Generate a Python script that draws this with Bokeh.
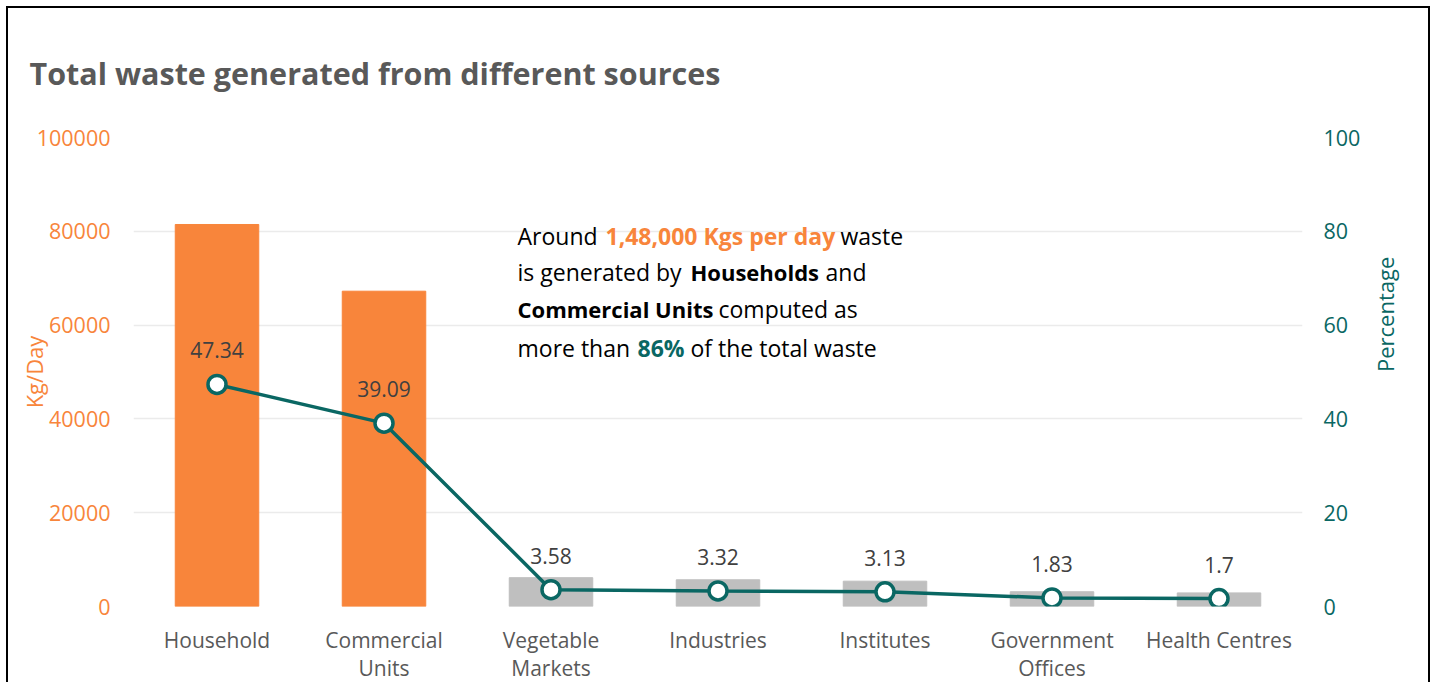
from bokeh.plotting import figure
from bokeh.models import (FactorRange, Range1d, LinearAxis, Label, ColumnDataSource,
                          FixedTicker, NumeralTickFormatter, Title)
from bokeh.core.properties import value
from bokeh.embed import file_html
from bokeh.resources import INLINE
import math

# ---------------- data ----------------
categories = ["Household", "Commercial\nUnits", "Vegetable\nMarkets", "Industries",
              "Institutes", "Government\nOffices", "Health Centres"]
waste_kg_per_day = [81450, 67230, 6150, 5700, 5400, 3150, 2900]
percentage = [47.34, 39.09, 3.58, 3.32, 3.13, 1.83, 1.7]
percentage_labels = ["47.34", "39.09", "3.58", "3.32", "3.13", "1.83", "1.7"]
left_ticks = [0, 20000, 40000, 60000, 80000, 100000]
right_ticks = [0, 20, 40, 60, 80, 100]

# ---------------- style ----------------
ORANGE = "#F8853B"
TEAL = "#0A6763"
GRAY = "#BFBFBF"
TXT = "#595959"
FONT = "Open Sans"

bar_colors = [ORANGE if i < 2 else GRAY for i in range(len(categories))]

src = ColumnDataSource(dict(cat=categories, kg=waste_kg_per_day, pct=percentage,
                            lbl=percentage_labels, color=bar_colors))

p = figure(title=None, x_range=FactorRange(*categories), y_range=Range1d(0, 100000),
           width=1424, height=676, output_backend="svg", toolbar_location=None,
           min_border_left=125, min_border_right=130, min_border_top=129,
           min_border_bottom=78,
           styles={"margin-left": "6px", "margin-top": "6px",
                   "border-left": "2px solid black", "border-right": "2px solid black",
                   "border-top": "2px solid black"})
p.outline_line_color = None
p.background_fill_color = "white"
p.border_fill_color = "white"

# title
p.add_layout(Title(text="Total waste generated from different sources", text_font=FONT,
                   text_font_size="30.5px", text_font_style="bold", text_color=TXT,
                   align="left", vertical_align="top", offset=-104, standoff=84), "above")

p.extra_y_ranges = {"pct": Range1d(0, 100)}

# grid
p.xgrid.grid_line_color = None
p.ygrid.grid_line_color = "#EBEBEB"
p.ygrid.grid_line_width = 1.5
p.ygrid.ticker = FixedTicker(ticks=left_ticks)

# left axis
ly = p.yaxis[0]
ly.ticker = FixedTicker(ticks=left_ticks)
ly.formatter = NumeralTickFormatter(format="0")
ly.axis_line_color = None
ly.major_tick_line_color = None
ly.minor_tick_line_color = None
ly.major_label_text_color = ORANGE
ly.major_label_text_font = FONT
ly.major_label_text_font_size = "21.5px"
ly.major_label_standoff = 17
ly.axis_label = "Kg/Day"
ly.axis_label_text_font = FONT
ly.axis_label_text_font_size = "22px"
ly.axis_label_text_font_style = "normal"
ly.axis_label_text_color = ORANGE
ly.axis_label_standoff = -15

# right axis
ry = LinearAxis(y_range_name="pct", ticker=FixedTicker(ticks=right_ticks))
ry.axis_line_color = None
ry.major_tick_line_color = None
ry.minor_tick_line_color = None
ry.major_label_text_color = TEAL
ry.major_label_text_font = FONT
ry.major_label_text_font_size = "21.5px"
ry.major_label_standoff = 15
ry.axis_label = "Percentage"
ry.axis_label_text_font = FONT
ry.axis_label_text_font_size = "22px"
ry.axis_label_text_font_style = "normal"
ry.axis_label_text_color = TEAL
ry.axis_label_standoff = 22
if hasattr(ry, "axis_label_orientation"):
    ry.axis_label_orientation = math.pi / 2
p.add_layout(ry, "right")

# x axis
xa = p.xaxis[0]
xa.axis_line_color = None
xa.major_tick_line_color = None
xa.minor_tick_line_color = None
xa.major_label_text_color = TXT
xa.major_label_text_font = FONT
xa.major_label_text_font_size = "21px"
xa.major_label_text_line_height = 1.0
xa.major_label_standoff = 13

# bars
p.vbar(x="cat", top="kg", width=0.5, color="color", source=src)

# line + markers
p.line(x="cat", y="pct", y_range_name="pct", line_color=TEAL, line_width=3.5, source=src)
p.scatter(x="cat", y="pct", y_range_name="pct", size=18, fill_color="white",
          line_color=TEAL, line_width=3.5, source=src)
p.text(x="cat", y="pct", text="lbl", y_range_name="pct", y_offset=-34,
       text_align="center", text_baseline="middle", text_color="#404040",
       text_font=value(FONT), text_font_size="21px", source=src)

# annotation (segments: text, x offset, y offset, color, style, size)
segments = [
    ("Around", 384, 371, "black", "normal", "23px"),
    ("1,48,000 Kgs per day", 472, 371, ORANGE, "bold", "23px"),
    ("waste", 707, 371, "black", "normal", "23px"),
    ("is generated by", 384, 335, "black", "normal", "23px"),
    ("Households", 557, 335, "black", "bold", "22px"),
    ("and", 692, 335, "black", "normal", "23px"),
    ("Commercial Units", 384, 298, "black", "bold", "22px"),
    ("computed as", 585, 298, "black", "normal", "23px"),
    ("more than", 384, 259, "black", "normal", "23px"),
    ("86%", 504, 259, TEAL, "bold", "23px"),
    ("of the total waste", 557, 259, "black", "normal", "23px"),
]
for t, dx, dy, c, s, fs in segments:
    p.add_layout(Label(x=0, y=0, x_offset=dx, y_offset=dy, text=t, text_font=FONT,
                       text_font_size=fs, text_font_style=s, text_color=c,
                       text_baseline="alphabetic", text_align="left"))

open("out.html", "w").write(file_html(p, INLINE))
